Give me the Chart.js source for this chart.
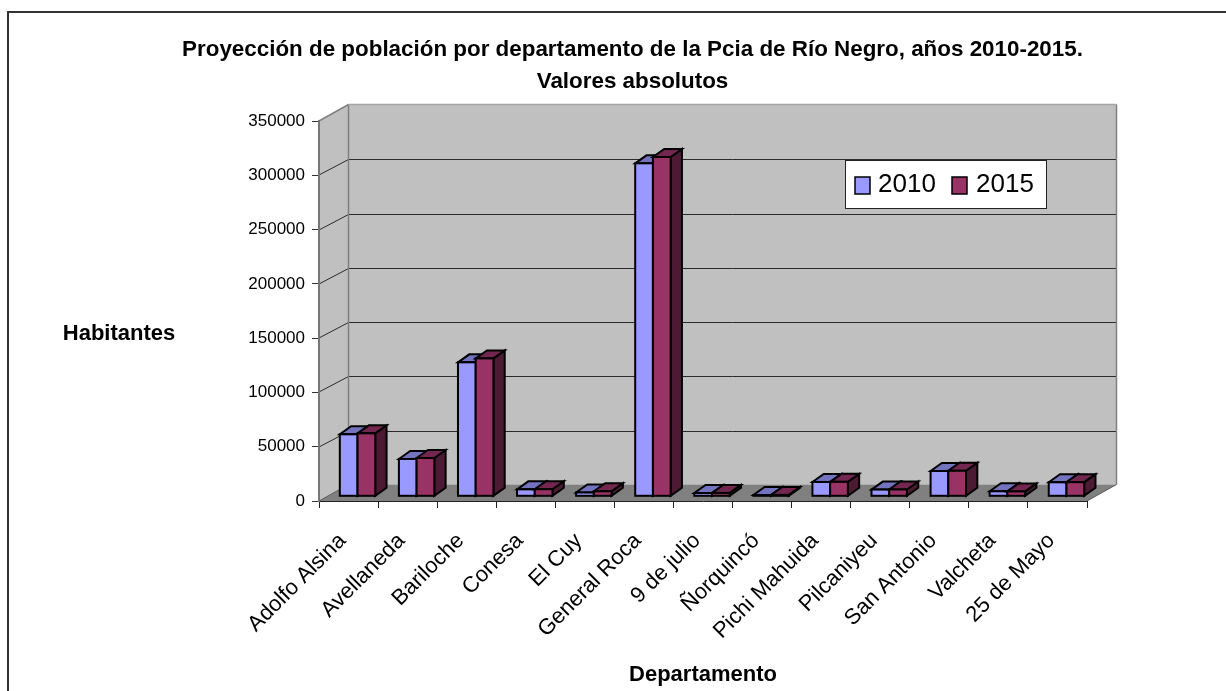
<!DOCTYPE html>
<html>
<head>
<meta charset="utf-8">
<style>html,body{margin:0;padding:0;background:#fff}canvas{display:block}</style>
<script src="https://cdn.jsdelivr.net/npm/chart.js@4/dist/chart.umd.min.js"></script>
</head>
<body>
<canvas id="c" width="1226" height="691" style="width:1226px;height:691px"></canvas>
<script>
const categories = ["Adolfo Alsina","Avellaneda","Bariloche","Conesa","El Cuy","General Roca","9 de julio","Ñorquincó","Pichi Mahuida","Pilcaniyeu","San Antonio","Valcheta","25 de Mayo"];
const values2010 = [57100,34400,123400,6400,3500,306700,3000,1200,13200,6200,23300,4600,12900];
const values2015 = [58000,35300,127000,6500,4600,312500,3100,1300,13300,6300,23500,4500,13000];
const yTicks = [0,50000,100000,150000,200000,250000,300000,350000];
const titleLines = ["Proyección de población por departamento de la Pcia de Río Negro, años 2010-2015.","Valores absolutos"];
const yTitle = "Habitantes";
const xTitle = "Departamento";

const FONT = '"Liberation Sans", Arial, sans-serif';
const WALL = {dx:29.5, dy:-16.5};
const BAR_OFFSET = {x:9, y:-4.7};
const BAR_DEPTH = {dx:11.3, dy:-8};
const FACES = [
  {front:'#9999FF', top:'#7373BF', side:'#4D4D80'},
  {front:'#993366', top:'#732650', side:'#4D1A33'}
];

const bars3d = {
  id:'bars3d',
  afterLayout(chart){
    chart.titleBlock.left = 0; chart.titleBlock.right = 1265;
  },
  beforeDraw(chart){
    const {ctx, chartArea:a, scales:{y}} = chart;
    const l=a.left, r=a.right, t=a.top, b=a.bottom, dx=WALL.dx, dy=WALL.dy;
    ctx.save();
    ctx.fillStyle='#fff'; ctx.fillRect(0,0,chart.width,chart.height);
    // outer frame (left and top only are in view)
    ctx.strokeStyle='#333'; ctx.lineWidth=2;
    ctx.beginPath(); ctx.moveTo(8,691); ctx.lineTo(8,12); ctx.lineTo(1226,12); ctx.stroke();
    // walls
    ctx.fillStyle='#C0C0C0';
    ctx.fillRect(l+dx,t+dy,r-l,b-t);
    ctx.beginPath(); ctx.moveTo(l,t); ctx.lineTo(l+dx,t+dy); ctx.lineTo(l+dx,b+dy); ctx.lineTo(l,b); ctx.closePath(); ctx.fill();
    // floor
    ctx.fillStyle='#808080';
    ctx.beginPath(); ctx.moveTo(l,b); ctx.lineTo(r,b); ctx.lineTo(r+dx,b+dy); ctx.lineTo(l+dx,b+dy); ctx.closePath(); ctx.fill();
    // grid lines on both walls
    ctx.lineWidth=1; ctx.strokeStyle='#2a2a2a';
    yTicks.forEach(v=>{
      if(v===0||v===yTicks[yTicks.length-1]) return;
      const p=Math.round(y.getPixelForValue(v));
      const q=Math.round(p+dy)+0.5;
      ctx.beginPath(); ctx.moveTo(l,p); ctx.lineTo(l+dx,q); ctx.lineTo(r+dx,q); ctx.stroke();
    });
    // wall edges
    ctx.strokeStyle='#808080'; ctx.lineWidth=1.5;
    ctx.beginPath(); ctx.moveTo(l,t); ctx.lineTo(l+dx,t+dy); ctx.stroke();
    ctx.beginPath(); ctx.moveTo(l+dx,b+dy); ctx.lineTo(l+dx,t+dy); ctx.stroke();
    ctx.beginPath(); ctx.moveTo(r+dx,t+dy); ctx.lineTo(r+dx,b+dy); ctx.stroke();
    ctx.strokeStyle='#A6A6A6';
    ctx.beginPath(); ctx.moveTo(l+dx,t+dy); ctx.lineTo(r+dx,t+dy); ctx.stroke();
    ctx.strokeStyle='#5a5a5a'; ctx.lineWidth=1;
    ctx.beginPath(); ctx.moveTo(l,b); ctx.lineTo(l+dx,b+dy); ctx.stroke();
    ctx.beginPath(); ctx.moveTo(r,b); ctx.lineTo(r+dx,b+dy); ctx.stroke();
    ctx.restore();
  },
  beforeDatasetsDraw(chart){
    chart.ctx.save();
    chart.ctx.translate(BAR_OFFSET.x,BAR_OFFSET.y);
  },
  afterDatasetsDraw(chart){
    const ctx=chart.ctx;
    ctx.restore();
    ctx.save();
    ctx.translate(BAR_OFFSET.x,BAR_OFFSET.y);
    const {dx,dy}=BAR_DEPTH;
    const poly=(pts,fill)=>{
      ctx.beginPath(); pts.forEach((p,i)=>i?ctx.lineTo(p[0],p[1]):ctx.moveTo(p[0],p[1])); ctx.closePath();
      ctx.fillStyle=fill; ctx.fill(); ctx.stroke();
    };
    ctx.lineWidth=2; ctx.strokeStyle='#000'; ctx.lineJoin='miter';
    categories.forEach((_,i)=>{
      [0,1].forEach(d=>{
        const el=chart.getDatasetMeta(d).data[i], w=el.width, x0=el.x-w/2, x1=el.x+w/2, yt=el.y, yb=el.base;
        poly([[x1,yt],[x1+dx,yt+dy],[x1+dx,yb+dy],[x1,yb]],FACES[d].side);
        poly([[x0,yt],[x0+dx,yt+dy],[x1+dx,yt+dy],[x1,yt]],FACES[d].top);
        el.draw(ctx);
        ctx.strokeRect(x0,yt,w,yb-yt);
      });
    });
    ctx.restore();
  },
  afterDraw(chart){
    const ctx=chart.ctx;
    ctx.save();
    // y axis title (horizontal)
    ctx.fillStyle='#000'; ctx.font='bold 22px '+FONT; ctx.textAlign='center'; ctx.textBaseline='middle';
    ctx.fillText(yTitle,119,334);
    // legend
    ctx.fillStyle='#fff'; ctx.strokeStyle='#222'; ctx.lineWidth=1;
    ctx.fillRect(845,160,201,48); ctx.strokeRect(845.5,160.5,201,48);
    ctx.font='26px '+FONT; ctx.textAlign='left';
    const sx=[855,952], tx=[878,976];
    chart.data.datasets.forEach((ds,i)=>{
      ctx.fillStyle=ds.backgroundColor; ctx.fillRect(sx[i],177,15,17);
      ctx.strokeStyle='#000'; ctx.lineWidth=1.5; ctx.strokeRect(sx[i],177,15,17);
      ctx.fillStyle='#000'; ctx.fillText(ds.label,tx[i],185);
    });
    ctx.restore();
  }
};

new Chart(document.getElementById('c'),{
  type:'bar',
  data:{labels:categories,datasets:[
    {label:'2010',data:values2010,backgroundColor:FACES[0].front,borderWidth:0,categoryPercentage:0.6,barPercentage:1},
    {label:'2015',data:values2015,backgroundColor:FACES[1].front,borderWidth:0,categoryPercentage:0.6,barPercentage:1}
  ]},
  options:{
    responsive:false,animation:false,devicePixelRatio:1,
    layout:{padding:{left:39,right:139,top:0,bottom:0}},
    plugins:{
      legend:{display:false},tooltip:{enabled:false},
      title:{display:true,text:titleLines,color:'#000',
        font:{family:FONT,size:22.4,weight:'bold',lineHeight:'31.5px'},
        padding:{top:34.25,bottom:23.75}}
    },
    scales:{
      x:{
        afterFit(s){s.height=190;},
        grid:{drawOnChartArea:false,tickLength:7,color:'#222',offset:true},
        border:{display:true,color:'#222',width:1},
        ticks:{color:'#000',font:{family:FONT,size:22},maxRotation:45,minRotation:45,autoSkip:false,padding:20,labelOffset:-6},
        title:{display:true,text:xTitle,color:'#000',font:{family:FONT,size:22,weight:'bold'},padding:{top:0,bottom:2.5}}
      },
      y:{
        min:0,max:350000,
        afterFit(s){s.width=280;},
        afterBuildTicks(s){s.ticks=yTicks.map(v=>({value:v}));},
        grid:{drawOnChartArea:false,tickLength:7,color:'#333'},
        border:{display:true,color:'#777',width:2},
        ticks:{color:'#000',font:{family:FONT,size:17},padding:7,callback:v=>String(v)}
      }
    }
  },
  plugins:[bars3d]
});
</script>
</body>
</html>
